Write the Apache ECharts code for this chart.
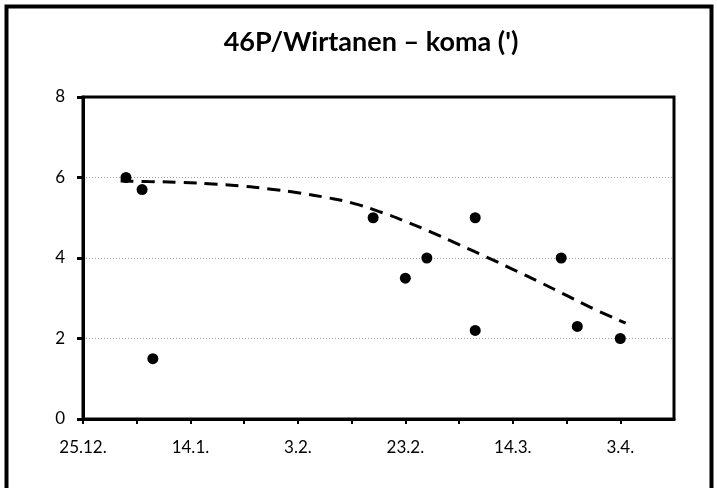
<!DOCTYPE html>
<html>
<head>
<meta charset="utf-8">
<script src="https://cdn.jsdelivr.net/npm/echarts@6/dist/echarts.min.js"></script>
<style>
html,body{margin:0;padding:0;background:#fff;}
#c{width:717px;height:488px;}
</style>
</head>
<body>
<div id="c"></div>
<script>
// Days counted from 25.12.
var obsDays   = [8, 11, 13, 54, 60, 64, 73, 73, 89, 92, 100];
var obsComa   = [6.0, 5.7, 1.5, 5.0, 3.5, 4.0, 5.0, 2.2, 4.0, 2.3, 2.0];
var trendDays = [7, 12, 18, 25, 30, 35, 40, 45, 50, 55, 60, 65, 70, 75, 80, 85, 90, 95, 101];
var trendComa = [5.91, 5.90, 5.88, 5.83, 5.78, 5.71, 5.62, 5.51, 5.37, 5.16, 4.91, 4.63, 4.33, 4.03, 3.72, 3.40, 3.07, 2.74, 2.38];
var xTickValues  = [0, 10, 20, 30, 40, 50, 60, 70, 80, 90, 100];
var xLabelValues = [0, 20, 40, 60, 80, 100];
var xLabelTexts  = ['25.12.', '14.1.', '3.2.', '23.2.', '14.3.', '3.4.'];
var titleText = "46P/Wirtanen \u2013 koma (')";

var chart = echarts.init(document.getElementById('c'), null, {renderer: 'canvas'});
var font = 'Lato, "Open Sans", sans-serif';
chart.setOption({
  animation: false,
  backgroundColor: '#fff',
  title: {
    text: titleText,
    left: 366, top: 24, textAlign: 'center',
    textStyle: {fontFamily: font, fontSize: 27, fontWeight: 'bold', color: '#000'}
  },
  graphic: [{
    type: 'rect',
    shape: {x: 6.5, y: 6.5, width: 705, height: 500},
    style: {fill: null, stroke: '#000', lineWidth: 4},
    silent: true
  }],
  grid: {
    left: 83, right: 43, top: 97, bottom: 69,
    show: true, borderColor: '#000', borderWidth: 3, backgroundColor: '#fff'
  },
  xAxis: {
    type: 'value', min: 0, max: 110,
    axisLine: {show: true, lineStyle: {color: '#000', width: 3}},
    axisTick: {show: true, length: 5, lineStyle: {color: '#000', width: 2}, customValues: xTickValues},
    axisLabel: {
      customValues: xLabelValues,
      margin: 20, fontFamily: font, fontSize: 17, color: '#000',
      formatter: function (v) {
        var i = xLabelValues.indexOf(Math.round(v));
        return i >= 0 ? xLabelTexts[i] : '';
      }
    },
    splitLine: {show: false}
  },
  yAxis: {
    type: 'value', min: 0, max: 8, interval: 2,
    axisLine: {show: true, lineStyle: {color: '#000', width: 3}},
    axisTick: {show: true, length: 6, lineStyle: {color: '#000', width: 3}},
    axisLabel: {margin: 18, fontFamily: font, fontSize: 17, color: '#000'},
    splitLine: {show: true, showMinLine: false, showMaxLine: false,
      lineStyle: {color: '#a0a0a0', width: 1, type: [1, 2]}}
  },
  series: [
    {
      type: 'scatter',
      data: obsDays.map(function (d, i) { return [d, obsComa[i]]; }),
      symbol: 'circle', symbolSize: 11,
      itemStyle: {color: '#000', opacity: 1},
      z: 3
    },
    {
      type: 'line',
      data: trendDays.map(function (d, i) { return [d, trendComa[i]]; }),
      smooth: true, showSymbol: false, symbol: 'none',
      lineStyle: {color: '#000', width: 3, type: [13, 8]},
      z: 4
    }
  ]
});
</script>
</body>
</html>
